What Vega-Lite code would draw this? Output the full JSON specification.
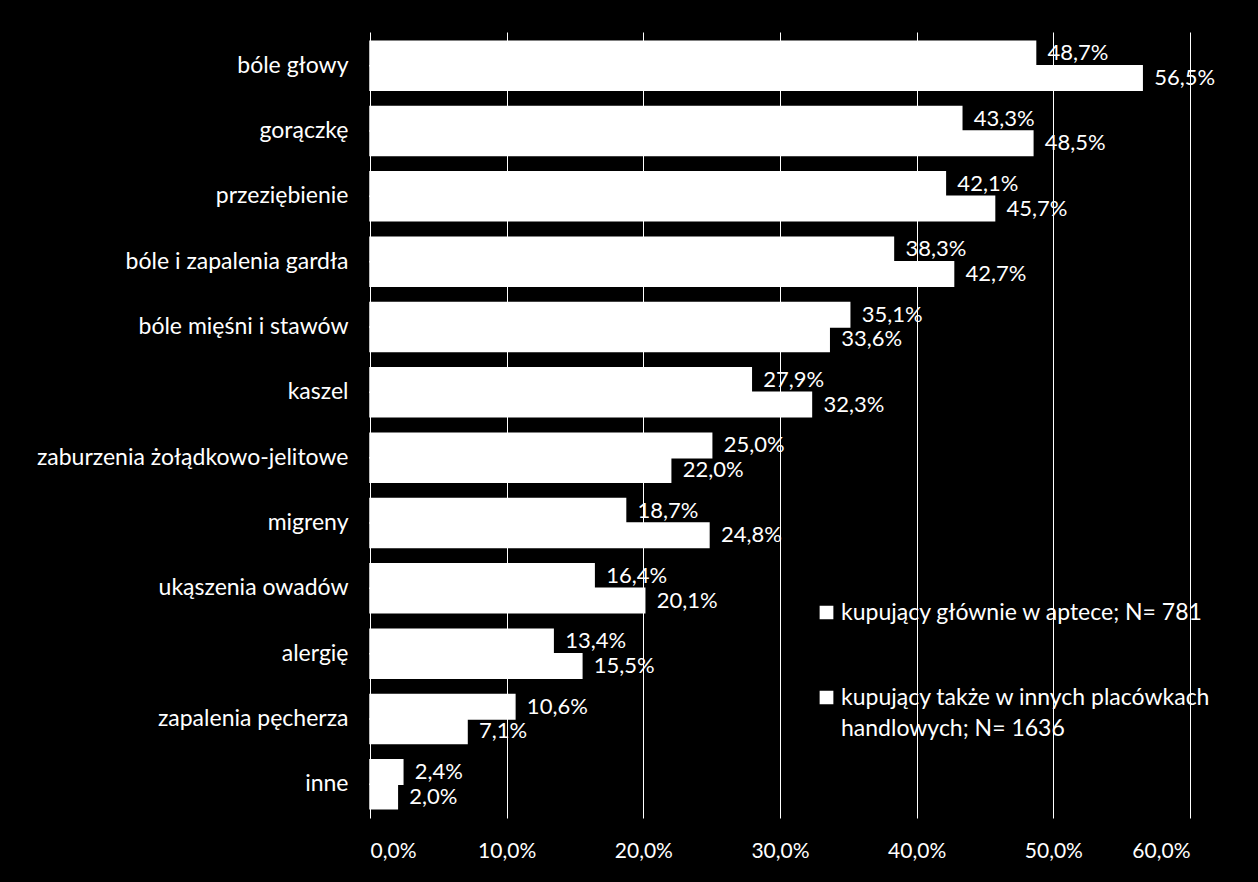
{
  "$schema": "https://vega.github.io/schema/vega-lite/v6.json",
  "background": "black",
  "autosize": {"type": "none"},
  "padding": {"left": 370, "top": 32, "right": 68, "bottom": 64},
  "width": 820,
  "height": 786,
  "data": {
    "values": [
      {"cat": "bóle głowy", "series": "kupujący głównie w aptece; N= 781", "value": 48.7},
      {"cat": "bóle głowy", "series": "kupujący także w innych placówkach|handlowych; N= 1636", "value": 56.5},
      {"cat": "gorączkę", "series": "kupujący głównie w aptece; N= 781", "value": 43.3},
      {"cat": "gorączkę", "series": "kupujący także w innych placówkach|handlowych; N= 1636", "value": 48.5},
      {"cat": "przeziębienie", "series": "kupujący głównie w aptece; N= 781", "value": 42.1},
      {"cat": "przeziębienie", "series": "kupujący także w innych placówkach|handlowych; N= 1636", "value": 45.7},
      {"cat": "bóle i zapalenia gardła", "series": "kupujący głównie w aptece; N= 781", "value": 38.3},
      {"cat": "bóle i zapalenia gardła", "series": "kupujący także w innych placówkach|handlowych; N= 1636", "value": 42.7},
      {"cat": "bóle mięśni i stawów", "series": "kupujący głównie w aptece; N= 781", "value": 35.1},
      {"cat": "bóle mięśni i stawów", "series": "kupujący także w innych placówkach|handlowych; N= 1636", "value": 33.6},
      {"cat": "kaszel", "series": "kupujący głównie w aptece; N= 781", "value": 27.9},
      {"cat": "kaszel", "series": "kupujący także w innych placówkach|handlowych; N= 1636", "value": 32.3},
      {"cat": "zaburzenia żołądkowo-jelitowe", "series": "kupujący głównie w aptece; N= 781", "value": 25.0},
      {"cat": "zaburzenia żołądkowo-jelitowe", "series": "kupujący także w innych placówkach|handlowych; N= 1636", "value": 22.0},
      {"cat": "migreny", "series": "kupujący głównie w aptece; N= 781", "value": 18.7},
      {"cat": "migreny", "series": "kupujący także w innych placówkach|handlowych; N= 1636", "value": 24.8},
      {"cat": "ukąszenia owadów", "series": "kupujący głównie w aptece; N= 781", "value": 16.4},
      {"cat": "ukąszenia owadów", "series": "kupujący także w innych placówkach|handlowych; N= 1636", "value": 20.1},
      {"cat": "alergię", "series": "kupujący głównie w aptece; N= 781", "value": 13.4},
      {"cat": "alergię", "series": "kupujący także w innych placówkach|handlowych; N= 1636", "value": 15.5},
      {"cat": "zapalenia pęcherza", "series": "kupujący głównie w aptece; N= 781", "value": 10.6},
      {"cat": "zapalenia pęcherza", "series": "kupujący także w innych placówkach|handlowych; N= 1636", "value": 7.1},
      {"cat": "inne", "series": "kupujący głównie w aptece; N= 781", "value": 2.4},
      {"cat": "inne", "series": "kupujący także w innych placówkach|handlowych; N= 1636", "value": 2.0}
    ]
  },
  "encoding": {
    "y": {
      "field": "cat", "type": "nominal", "sort": null,
      "scale": {"paddingInner": 0.25, "paddingOuter": 0.14},
      "axis": {"title": null, "domain": false, "ticks": false, "labelColor": "white", "labelFont": "Lato", "labelFontSize": 23, "labelPadding": 22, "labelLimit": 400}
    },
    "yOffset": {
      "field": "series", "type": "nominal",
      "scale": {"domain": ["kupujący głównie w aptece; N= 781", "kupujący także w innych placówkach|handlowych; N= 1636"], "paddingInner": 0, "paddingOuter": 0}
    },
    "x": {
      "field": "value", "type": "quantitative",
      "scale": {"domain": [0, 60], "nice": false},
      "axis": {
        "title": null, "values": [0, 10, 20, 30, 40, 50, 60], "domain": false, "ticks": false,
        "grid": true, "gridColor": "white", "gridWidth": 1, "gridOpacity": 1,
        "labelColor": "white", "labelFont": "Lato", "labelFontSize": 21, "labelPadding": 22,
        "labelExpr": "replace(format(datum.value, '.1f'), '.', ',') + '%'"
      }
    }
  },
  "layer": [
    {
      "mark": {"type": "bar", "fill": "white", "stroke": "white", "strokeWidth": 1.5},
      "encoding": {
        "color": {
          "field": "series", "type": "nominal",
          "scale": {"domain": ["kupujący głównie w aptece; N= 781", "kupujący także w innych placówkach|handlowych; N= 1636"], "range": ["white", "white"]},
          "legend": {
            "title": null, "orient": "none", "legendX": 445, "legendY": 569,
            "symbolType": "square", "symbolSize": 150, "symbolFillColor": "white", "symbolStrokeColor": "white", "symbolOpacity": 1,
            "labelColor": "white", "labelFont": "Lato", "labelFontSize": 23, "labelLimit": 500,
            "rowPadding": 61, "labelOffset": 3,
            "labelExpr": "split(datum.label, '|')"
          }
        }
      }
    },
    {
      "transform": [{"calculate": "replace(format(datum.value, '.1f'), '.', ',') + '%'", "as": "lbl"}],
      "mark": {"type": "text", "align": "left", "baseline": "middle", "dx": 12, "color": "white", "font": "Lato", "fontSize": 22},
      "encoding": {"text": {"field": "lbl"}}
    }
  ],
  "config": {"view": {"stroke": null}, "style": {"guide-label": {"lineHeight": 31}}}
}
